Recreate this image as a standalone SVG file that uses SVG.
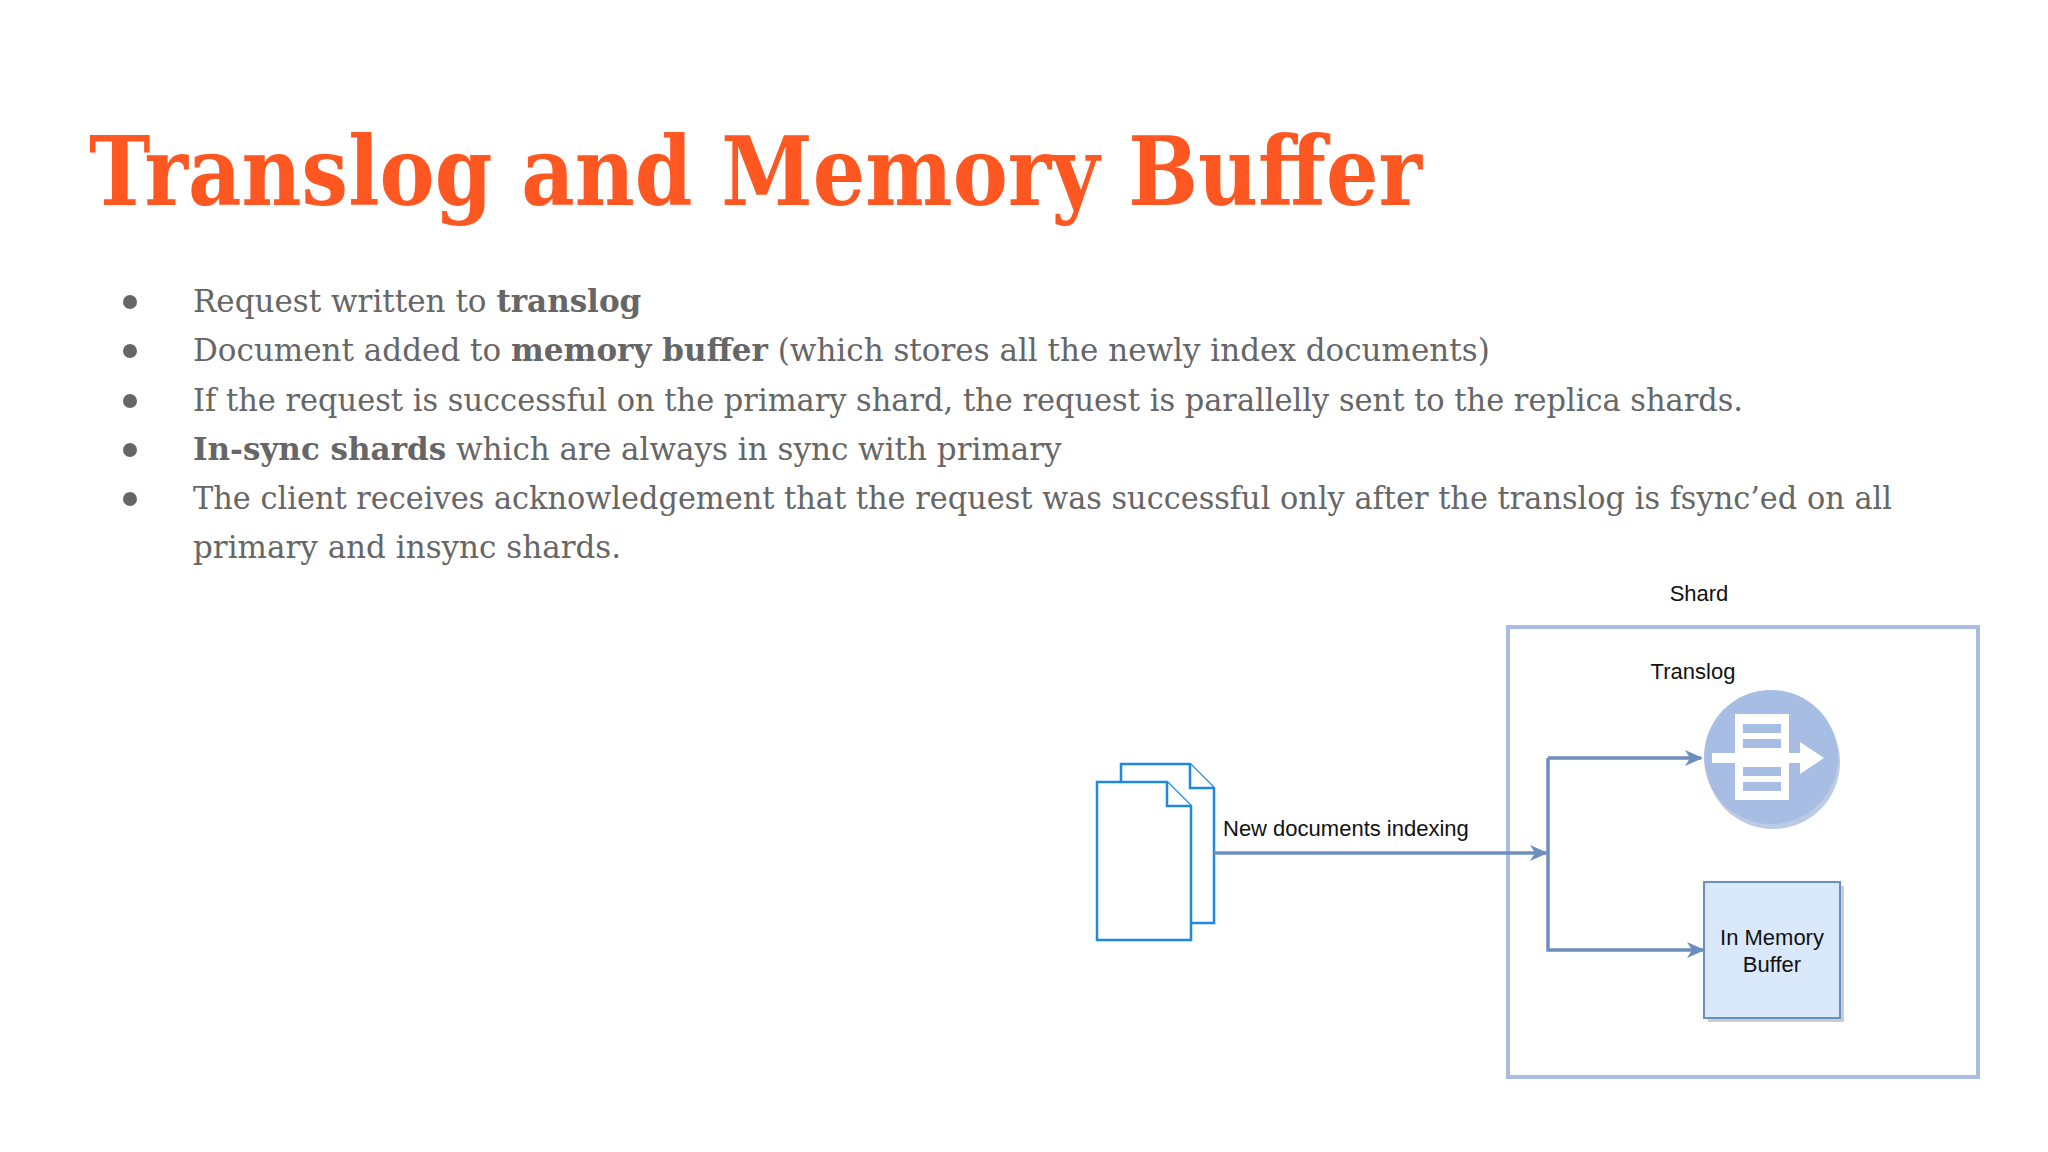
<svg xmlns="http://www.w3.org/2000/svg" width="2048" height="1152" viewBox="0 0 2048 1152">
<style>
.t{font-family:"DejaVu Serif","Liberation Serif",serif;font-size:31px;fill:#666}
.b{font-weight:bold}
.d{font-family:"Liberation Sans",Arial,sans-serif;font-size:22px;fill:#111}
.c{fill:none;stroke:#6c8ebf;stroke-width:3.5}
</style>
<defs>
<marker id="ar" markerWidth="18" markerHeight="18" refX="16" refY="9" orient="auto" markerUnits="userSpaceOnUse" viewBox="0 0 18 18"><path d="M0,1 L18,9 L0,17 L5,9Z" fill="#6c8ebf"/></marker>
</defs>
<rect width="2048" height="1152" fill="#fff"/>
<text x="89" y="205" font-family="DejaVu Serif,serif" font-weight="900" font-size="96" fill="#ff5722" textLength="1333" lengthAdjust="spacingAndGlyphs">Translog and Memory Buffer</text>
<g fill="#666"><circle cx="130" cy="302" r="7"/><circle cx="130" cy="351" r="7"/><circle cx="130" cy="401" r="7"/><circle cx="130" cy="450" r="7"/><circle cx="130" cy="499" r="7"/></g>
<text class="t" x="193" y="312">Request written to <tspan class="b">translog</tspan></text>
<text class="t" x="193" y="361">Document added to <tspan class="b">memory buffer</tspan> (which stores all the newly index documents)</text>
<text class="t" x="193" y="411" textLength="1550" lengthAdjust="spacingAndGlyphs">If the request is successful on the primary shard, the request is parallelly sent to the replica shards.</text>
<text class="t" x="193" y="460"><tspan class="b">In-sync shards</tspan> which are always in sync with primary</text>
<text class="t" x="193" y="509" textLength="1699" lengthAdjust="spacingAndGlyphs">The client receives acknowledgement that the request was successful only after the translog is fsync’ed on all</text>
<text class="t" x="193" y="558">primary and insync shards.</text>
<g transform="translate(-8,-3)">
<g id="shard">
<rect x="1516" y="630" width="470" height="450" fill="none" stroke="#a9bde3" stroke-width="4"/>
<text class="d" x="1707" y="604" text-anchor="middle">Shard</text>
</g>
<g id="translog">
<text class="d" x="1701" y="682" text-anchor="middle">Translog</text>
<circle cx="1781" cy="765" r="67" fill="#8fa8d0" opacity="0.6"/>
<circle cx="1779" cy="760" r="67" fill="#a7bde3"/>
<rect x="1743" y="717" width="54" height="86" fill="#fff"/>
<rect x="1751" y="727" width="38" height="9" fill="#a7bde3"/>
<rect x="1751" y="742" width="38" height="9" fill="#a7bde3"/>
<rect x="1751" y="770" width="38" height="9" fill="#a7bde3"/>
<rect x="1751" y="785" width="38" height="9" fill="#a7bde3"/>
<rect x="1720" y="756" width="92" height="10" fill="#fff"/>
<path d="M1808,745 L1832,761 L1808,777Z" fill="#fff"/>
</g>
<g id="buffer">
<rect x="1716" y="889" width="136" height="136" fill="#999" opacity="0.5"/>
<rect x="1712" y="885" width="136" height="136" fill="#dae8fc" stroke="#6c8ebf" stroke-width="2"/>
<text class="d" x="1780" y="948" text-anchor="middle">In Memory</text>
<text class="d" x="1780" y="975" text-anchor="middle">Buffer</text>
</g>
<g id="docs" fill="#fff" stroke="#1e88e5" stroke-width="2.5">
<path d="M1129,767 H1198 L1222,791 V926 H1129Z"/>
<path d="M1198,767 V791 H1222"/>
<path d="M1105,785 H1175 L1199,809 V943 H1105Z"/>
<path d="M1175,785 V809 H1199"/>
</g>
<g id="connectors">
<path class="c" d="M1222,856 H1554" marker-end="url(#ar)"/>
<path class="c" d="M1556,761 H1709" marker-end="url(#ar)"/>
<path class="c" d="M1556,761 V953 H1711" marker-end="url(#ar)"/>
<text class="d" x="1231" y="839">New documents indexing</text>
</g>
</g>
</svg>
